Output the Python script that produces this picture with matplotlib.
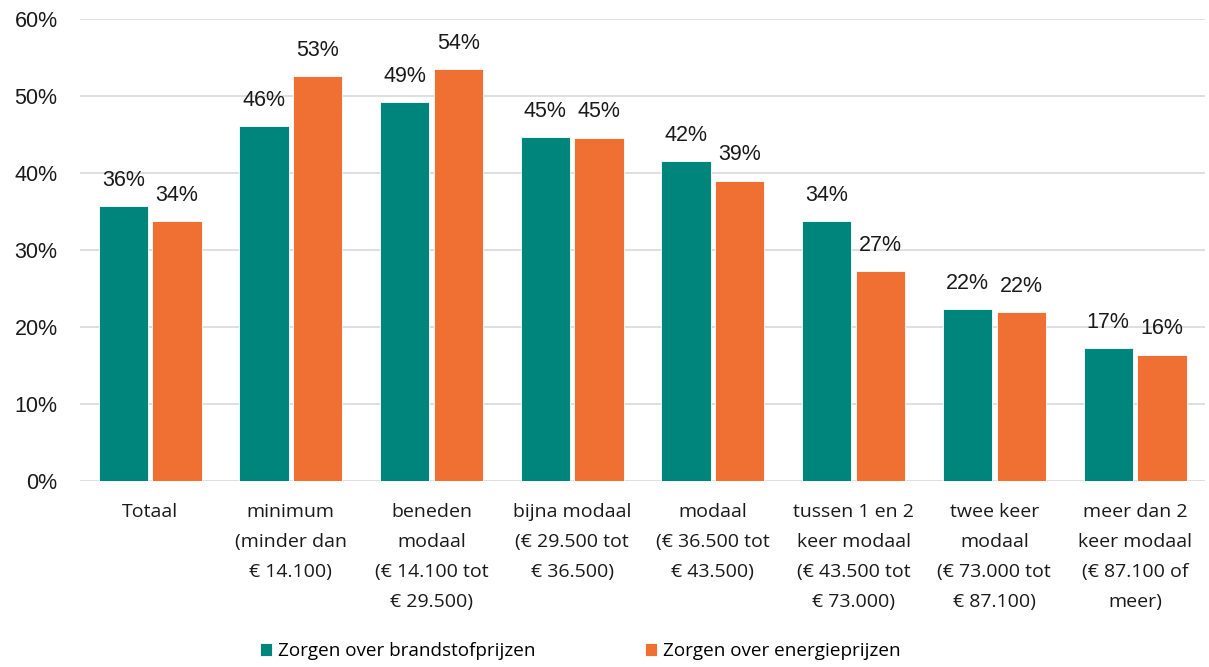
import numpy as np
import matplotlib
matplotlib.use("Agg")
import matplotlib.pyplot as plt

# categorieën (inkomensgroepen)
categories = [
    "Totaal",
    "minimum\n(minder dan\n€ 14.100)",
    "beneden\nmodaal\n(€ 14.100 tot\n€ 29.500)",
    "bijna modaal\n(€ 29.500 tot\n€ 36.500)",
    "modaal\n(€ 36.500 tot\n€ 43.500)",
    "tussen 1 en 2\nkeer modaal\n(€ 43.500 tot\n€ 73.000)",
    "twee keer\nmodaal\n(€ 73.000 tot\n€ 87.100)",
    "meer dan 2\nkeer modaal\n(€ 87.100 of\nmeer)",
]
brandstof = [35.7, 46.1, 49.2, 44.7, 41.5, 33.8, 22.3, 17.2]
energie = [33.7, 52.6, 53.5, 44.6, 39.0, 27.3, 21.9, 16.4]
series_names = ["Zorgen over brandstofprijzen", "Zorgen over energieprijzen"]
yticks = [0, 10, 20, 30, 40, 50, 60]

teal = "#00857C"
orange = "#F07033"

plt.rcParams['font.family'] = ['Liberation Sans', 'DejaVu Sans']

fig = plt.figure(figsize=(12.09, 6.67), dpi=100)
ax = fig.add_axes([0.066, 0.279, 0.931, 0.6925])

x = np.arange(len(categories))
w = 0.35
gap = 0.016
b1 = ax.bar(x - w / 2 - gap, brandstof, w, color=teal, edgecolor="white", linewidth=0.6,
            label=series_names[0], zorder=3)
b2 = ax.bar(x + w / 2 + gap, energie, w, color=orange, edgecolor="white", linewidth=0.6,
            label=series_names[1], zorder=3)

# data labels
for bars, vals in [(b1, brandstof), (b2, energie)]:
    for rect, v in zip(bars, vals):
        ax.annotate(f"{v:.0f}%", (rect.get_x() + rect.get_width() / 2, v),
                    xytext=(0, 18.5), textcoords="offset points",
                    ha="center", va="center", fontsize=15.5, color="#1a1a1a")

ax.set_ylim(0, 60)
ax.set_xlim(-0.5, len(categories) - 0.5)
ax.set_yticks(yticks)
ax.set_yticklabels([f"{t}%" for t in yticks], fontsize=15.5, color="#1a1a1a")
ax.set_xticks(x)
ax.set_xticklabels(categories, fontsize=14, color="#1a1a1a", linespacing=1.86,
                   family=['Open Sans', 'DejaVu Sans'])
ax.tick_params(axis="both", length=0)
ax.tick_params(axis="x", pad=16)
ax.tick_params(axis="y", pad=16)

ax.grid(axis="y", color="#d9d9d9", linewidth=1.2, zorder=0)
for s in ax.spines.values():
    s.set_visible(False)

fig.legend(handles=[b1, b2], labels=series_names, loc="center", bbox_to_anchor=(0.48, 0.024),
           ncol=2, frameon=False, handlelength=0.65, handleheight=0.65,
           handletextpad=0.3, columnspacing=5.8, prop={'family': ['Open Sans', 'DejaVu Sans'], 'size': 13.6})

fig.savefig("out.png", dpi=100)
